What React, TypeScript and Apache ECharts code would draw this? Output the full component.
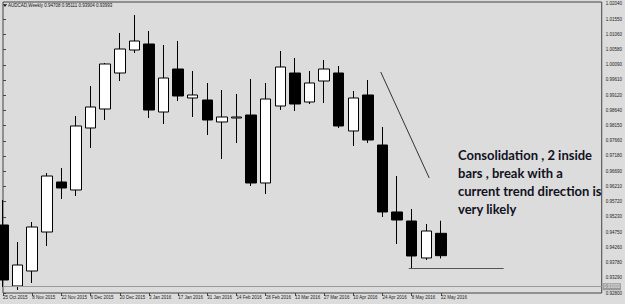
import { useEffect, useRef } from "react";
import * as echarts from "echarts";

const weekDates = [
  "25 Oct 2015", "1 Nov 2015", "8 Nov 2015", "15 Nov 2015", "22 Nov 2015", "29 Nov 2015",
  "6 Dec 2015", "13 Dec 2015", "20 Dec 2015", "27 Dec 2015", "3 Jan 2016", "10 Jan 2016",
  "17 Jan 2016", "24 Jan 2016", "31 Jan 2016", "7 Feb 2016", "14 Feb 2016", "21 Feb 2016",
  "28 Feb 2016", "6 Mar 2016", "13 Mar 2016", "20 Mar 2016", "27 Mar 2016", "3 Apr 2016",
  "10 Apr 2016", "17 Apr 2016", "24 Apr 2016", "1 May 2016", "8 May 2016", "15 May 2016",
  "22 May 2016",
];

const opens = [
  0.94974, 0.93024, 0.93503, 0.9475, 0.96349, 0.96093, 0.98075, 0.98682, 0.99833, 1.00568,
  1.0076, 0.98586, 0.99961, 0.99034, 0.9897, 0.98267, 0.98395, 0.9849, 0.96317, 0.98778,
  0.99833, 0.98906, 0.99577, 0.99833, 0.97979, 0.9913, 0.97531, 0.9539, 0.95102, 0.93919,
  0.94708,
];
const closes = [
  0.93216, 0.93695, 0.9491, 0.9654, 0.96157, 0.98139, 0.98746, 1.00121, 1.006, 1.00856,
  0.9865, 0.99673, 0.99098, 0.9913, 0.98331, 0.98427, 0.98427, 0.96317, 0.99002, 1.00025,
  0.98842, 0.99514, 0.99961, 0.98139, 0.99034, 0.97691, 0.9539, 0.95134, 0.93983, 0.94782,
  0.93993,
];
const lows = [
  0.92992, 0.92896, 0.9312, 0.94303, 0.95805, 0.95901, 0.97436, 0.98331, 0.99577, 1.00473,
  0.98395, 0.98203, 0.98938, 0.98427, 0.97851, 0.97084, 0.97595, 0.96221, 0.95965, 0.9865,
  0.98618, 0.98842, 0.98874, 0.98075, 0.97499, 0.97595, 0.9523, 0.94366, 0.93599, 0.93855,
  0.93904,
];
const highs = [
  0.95773, 0.9443, 0.9507, 0.96636, 0.96796, 0.98458, 0.99418, 1.00153, 1.01112, 1.01687,
  1.01176, 1.00728, 1.00856, 0.99897, 0.99514, 0.9929, 0.99162, 0.99641, 0.99514, 1.00537,
  1.00313, 0.99897, 1.00249, 1.00057, 0.99258, 0.99609, 0.98107, 0.9654, 0.95485, 0.95006,
  0.95111,
];

const priceTicks = [
  1.0204, 1.0155, 1.0106, 1.0058, 1.0009, 0.9961, 0.9912, 0.9864, 0.9815, 0.9766,
  0.9718, 0.9669, 0.9621, 0.9572, 0.9523, 0.9475, 0.9426, 0.9378, 0.9329, 0.928,
];
const dateTickIndexes = [0, 2, 4, 6, 8, 10, 12, 14, 16, 18, 20, 22, 24, 26, 28, 30];

const titleText = "AUDCAD,Weekly 0.94708 0.95111 0.93904 0.93993";
const lastPrice = 0.93993;
const greyLevel = 0.9299;
const trendLine = [[25.88, 0.99865], [29.2, 0.96476]];
const supportLine = [[27.8, 0.93599], [34.3, 0.93599]];
const noteText = "Consolidation , 2 inside\nbars , break with a\ncurrent trend direction is\nvery likely";

export default function App() {
  const ref = useRef<HTMLDivElement>(null);
  useEffect(() => {
    const chart = echarts.init(ref.current!, null, { renderer: "svg" });
    const axisFont = { fontFamily: "Liberation Sans", fontSize: 4.5, color: "#222" };
    chart.setOption({
      animation: false,
      backgroundColor: "#dcdcdc",
      title: {
        text: titleText,
        left: 8,
        top: 2.5,
        padding: 0,
        textStyle: { fontFamily: "Liberation Sans", fontSize: 4.5, fontWeight: "normal", color: "#111" },
      },
      grid: {
        left: 2,
        right: 19,
        top: 2,
        bottom: 11,
        show: true,
        borderColor: "#444",
        borderWidth: 1,
        backgroundColor: "transparent",
      },
      xAxis: {
        type: "value",
        min: 0,
        max: 41.02,
        axisLine: { show: false },
        splitLine: { show: false },
        axisTick: { show: true, customValues: dateTickIndexes, length: 3, lineStyle: { color: "#444" } },
        axisLabel: {
          ...axisFont,
          customValues: dateTickIndexes,
          align: "left",
          margin: 2,
          formatter: (v: number) => weekDates[Math.round(v)] ?? "",
        },
      },
      yAxis: {
        type: "value",
        position: "right",
        min: 0.928,
        max: 1.02103,
        scale: true,
        axisLine: { show: false },
        splitLine: { show: false },
        axisTick: { show: true, customValues: priceTicks, length: 3, lineStyle: { color: "#444" } },
        axisLabel: {
          ...axisFont,
          customValues: priceTicks,
          margin: 4,
          formatter: (v: number) => v.toFixed(5),
        },
      },
      graphic: [
        {
          type: "polygon",
          shape: { points: [[3, 4], [7, 4], [5, 7]] },
          style: { fill: "#111" },
        },
        {
          type: "text",
          x: 458,
          y: 146,
          style: {
            text: noteText,
            font: "bold 13px Lato",
            lineHeight: 18,
            fill: "#111122",
          },
        },
      ],
      series: [
        {
          type: "candlestick",
          clip: false,
          barWidth: 11,
          encode: { x: 0, y: [1, 2, 3, 4] },
          data: weekDates.map((_, i) => [i, opens[i], closes[i], lows[i], highs[i]]),
          itemStyle: {
            color: "#ffffff",
            color0: "#000000",
            borderColor: "#000000",
            borderColor0: "#000000",
            borderWidth: 1,
          },
          markLine: {
            silent: true,
            symbol: "none",
            animation: false,
            data: [
              {
                yAxis: greyLevel,
                lineStyle: { color: "#9a9a9a", width: 1, type: "solid" },
                label: {
                  show: true,
                  position: "end",
                  distance: 1,
                  formatter: (p: any) => Number(p.value).toFixed(5),
                  fontFamily: "Liberation Sans",
                  fontSize: 4.5,
                  color: "#eeeeee",
                  backgroundColor: "#9a9a9a",
                  padding: [1, 1],
                },
              },
              {
                yAxis: lastPrice,
                lineStyle: { opacity: 0 },
                label: {
                  show: true,
                  position: "end",
                  distance: 1,
                  formatter: (p: any) => Number(p.value).toFixed(5),
                  fontFamily: "Liberation Sans",
                  fontSize: 4.5,
                  color: "#ffffff",
                  backgroundColor: "#000000",
                  padding: [1, 1],
                },
              },
              [
                { coord: trendLine[0], lineStyle: { color: "#333", width: 1, type: "solid" }, label: { show: false } },
                { coord: trendLine[1] },
              ],
              [
                { coord: supportLine[0], lineStyle: { color: "#555", width: 1, type: "solid" }, label: { show: false } },
                { coord: supportLine[1] },
              ],
            ],
          },
        },
      ],
    });
    return () => chart.dispose();
  }, []);
  return (
    <div
      ref={ref}
      style={{ position: "fixed", left: 0, top: 0, width: 625, height: 304, background: "#dcdcdc" }}
    />
  );
}
